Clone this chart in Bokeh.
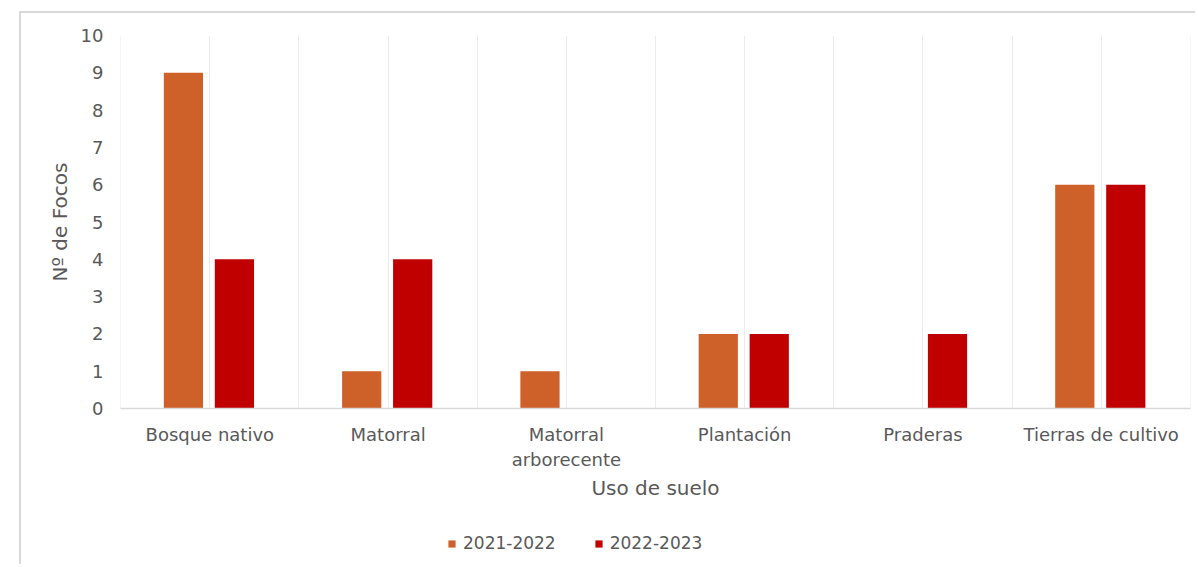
from bokeh.plotting import figure
from bokeh.layouts import column
from bokeh.models import (ColumnDataSource, FixedTicker, Legend, LegendItem,
                          Range1d)
from bokeh.transform import dodge
from bokeh.embed import file_html
from bokeh.resources import INLINE

categories = ["Bosque nativo", "Matorral", "Matorral\narborecente",
              "Plantación", "Praderas", "Tierras de cultivo"]
series_2021_2022 = [9, 1, 1, 2, 0, 6]
series_2022_2023 = [4, 4, 0, 2, 2, 6]
series_names = ["2021-2022", "2022-2023"]
y_ticks = list(range(0, 11))

FONT = "DejaVu Sans"
TXT = "#595959"
COLORS = ["#CD6129", "#C00000"]

n = len(categories)
centers = [i + 0.5 for i in range(n)]
src = ColumnDataSource(dict(x=centers, a=series_2021_2022, b=series_2022_2023))

p = figure(width=1176, height=497, output_backend="svg", toolbar_location=None,
           x_range=Range1d(-0.001, n + 0.001), y_range=Range1d(0, 10),
           min_border_left=99, min_border_right=7, min_border_top=22,
           min_border_bottom=102)
p.outline_line_color = None

p.vbar(x=dodge("x", -0.148, range=p.x_range), top="a", width=0.22,
       source=src, color=COLORS[0], line_color=None)
p.vbar(x=dodge("x", 0.138, range=p.x_range), top="b", width=0.22,
       source=src, color=COLORS[1], line_color=None)

# axes
p.xaxis.ticker = FixedTicker(ticks=centers)
p.xaxis.major_label_overrides = {c: lab for c, lab in zip(centers, categories)}
p.xaxis.major_tick_line_color = None
p.xaxis.minor_tick_line_color = None
p.xaxis.axis_line_color = "#D9D9D9"
p.xaxis.axis_line_width = 1.5
p.xaxis.major_label_text_font = FONT
p.xaxis.major_label_text_font_size = "18px"
p.xaxis.major_label_text_color = TXT
p.xaxis.major_label_standoff = 9
p.xaxis.axis_label = "Uso de suelo"
p.xaxis.axis_label_text_font = FONT
p.xaxis.axis_label_text_font_size = "20px"
p.xaxis.axis_label_text_font_style = "normal"
p.xaxis.axis_label_text_color = TXT
p.xaxis.axis_label_standoff = 3

p.yaxis.ticker = FixedTicker(ticks=y_ticks)
p.yaxis.major_tick_line_color = None
p.yaxis.minor_tick_line_color = None
p.yaxis.axis_line_color = None
p.yaxis.major_label_text_font = FONT
p.yaxis.major_label_text_font_size = "18px"
p.yaxis.major_label_text_color = TXT
p.yaxis.major_label_standoff = 11
p.yaxis.axis_label = "Nº de Focos"
p.yaxis.axis_label_text_font = FONT
p.yaxis.axis_label_text_font_size = "20px"
p.yaxis.axis_label_text_font_style = "normal"
p.yaxis.axis_label_text_color = TXT
p.yaxis.axis_label_standoff = 6

# grid: vertical lines at category centres and boundaries
p.xgrid.ticker = FixedTicker(ticks=[i * 0.5 for i in range(2 * n + 1)])
p.xgrid.grid_line_color = "#EBEBEB"
p.xgrid.grid_line_width = 1
p.ygrid.grid_line_color = None

# legend strip below the chart (its series renderers sit outside its view)
lf = figure(width=1176, height=56, output_backend="svg", toolbar_location=None,
            x_range=Range1d(1000, 1001), y_range=Range1d(1000, 1001),
            x_axis_location=None, y_axis_location=None,
            min_border=0, min_border_left=0, min_border_right=0,
            min_border_top=0, min_border_bottom=0)
lf.outline_line_color = None
lf.xgrid.grid_line_color = None
lf.ygrid.grid_line_color = None
items = []
for name, field, col in zip(series_names, ["a", "b"], COLORS):
    r = lf.vbar(x="x", top=field, width=0.22, source=src, color=col,
                line_color=None)
    items.append(LegendItem(label=name, renderers=[r]))
legend = Legend(items=items, orientation="horizontal", location=(327, 13),
                glyph_width=9, glyph_height=9, label_standoff=7, spacing=38,
                label_height=20, padding=0, margin=0, border_line_color=None,
                background_fill_alpha=0,
                label_text_font=FONT, label_text_font_size="17px",
                label_text_color=TXT)
lf.add_layout(legend, "center")

layout = column(p, lf, spacing=0)
layout.margin = (13, 0, 0, 21)
layout.styles = {"box-shadow": "-2px -2px 0px 0px #D9D9D9"}

open("out.html", "w").write(file_html(layout, INLINE))
